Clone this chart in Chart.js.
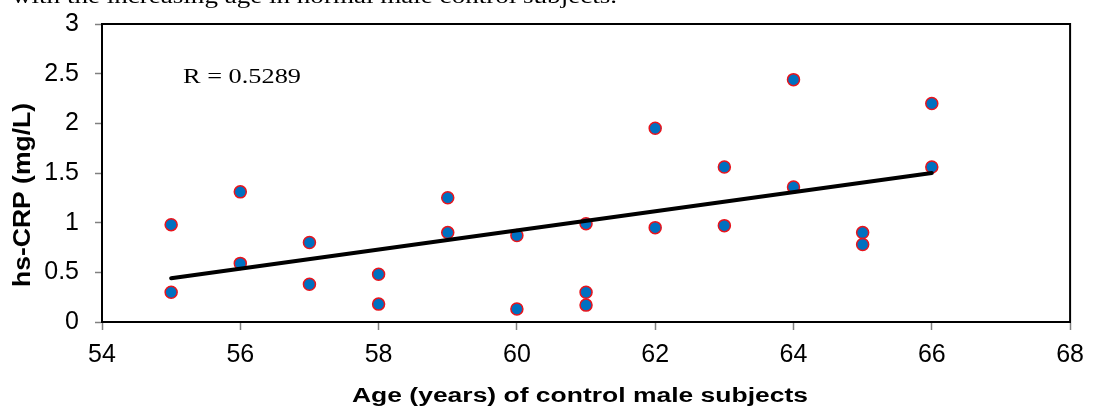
<!DOCTYPE html>
<html>
<head>
<meta charset="utf-8">
<script src="https://cdn.jsdelivr.net/npm/chart.js@4/dist/chart.umd.min.js"></script>
<style>
  html, body { margin: 0; padding: 0; background: #fff; }
  #wrap { width: 1094px; height: 411px; position: relative; }
</style>
</head>
<body>
<div id="wrap"><canvas id="crpChart" width="1094" height="411"></canvas></div>
<script>
// Data
const ages = [55, 55, 56, 56, 57, 57, 58, 58, 59, 59, 60, 60, 61, 61, 61, 62, 62, 63, 63, 64, 64, 65, 65, 66, 66];
const crpValues = [0.98, 0.30, 1.31, 0.59, 0.80, 0.38, 0.48, 0.18, 1.25, 0.90, 0.87, 0.13, 0.99, 0.30, 0.17, 1.95, 0.95, 1.56, 0.97, 2.44, 1.36, 0.90, 0.78, 2.20, 1.56];
const trendAges = [55, 66];
const trendValues = [0.44, 1.50];
const xTicks = [54, 56, 58, 60, 62, 64, 66, 68];
const yTicks = [0, 0.5, 1, 1.5, 2, 2.5, 3];

const captionText = 'with the increasing age in normal male control subjects.';
const rText = 'R = 0.5289';
const xTitle = 'Age (years) of control male subjects';
const yTitle = 'hs-CRP (mg/L)';

const SANS = '"Liberation Sans", Arial, sans-serif';
const SERIF = '"Liberation Serif", "Times New Roman", serif';

// target plot box (pixels)
const AREA = { left: 102, top: 24, right: 1075, bottom: 322 };

// draw text squeezed/stretched to a given width (the source figure is stretched sideways)
function drawFit(ctx, text, font, x, y, width, align, vertical) {
    ctx.save();
    ctx.font = font;
    ctx.fillStyle = '#000';
    ctx.textAlign = align;
    ctx.textBaseline = 'alphabetic';
    const w = ctx.measureText(text).width;
    ctx.translate(x, y);
    if (vertical) ctx.rotate(-Math.PI / 2);
    ctx.scale(width / w, 1);
    ctx.fillText(text, 0, 0);
    ctx.restore();
}

const annotations = {
    id: 'annotations',
    afterDatasetsDraw(chart) {
        const { ctx, chartArea: a } = chart;
        // plot frame
        ctx.save();
        ctx.strokeStyle = '#000';
        ctx.lineWidth = 2;
        ctx.strokeRect(a.left, a.top, a.right - a.left, a.bottom - a.top);
        ctx.restore();

        drawFit(ctx, captionText, '21px ' + SERIF, 12, 3, 605, 'left', false);
        drawFit(ctx, rText, '21px ' + SERIF, 183, 83, 118, 'left', false);
        drawFit(ctx, xTitle, 'bold 20px ' + SANS, 580, 402, 456, 'center', false);
        drawFit(ctx, yTitle, 'bold 23px ' + SANS, 30, 195, 184, 'center', true);
    }
};

const ctx = document.getElementById('crpChart').getContext('2d');
const crpChart = new Chart(ctx, {
    type: 'scatter',
    data: {
        datasets: [
            {
                label: 'Trend',
                type: 'line',
                data: trendAges.map((a, i) => ({ x: a, y: trendValues[i] })),
                borderColor: '#000',
                borderWidth: 4,
                borderCapStyle: 'round',
                pointRadius: 0,
                fill: false,
                order: 0
            },
            {
                label: 'hs-CRP',
                data: ages.map((a, i) => ({ x: a, y: crpValues[i] })),
                backgroundColor: '#0070C0',
                borderColor: '#E8141C',
                borderWidth: 1.5,
                pointRadius: 6,
                pointHoverRadius: 6,
                order: 1
            }
        ]
    },
    options: {
        responsive: false,
        animation: false,
        devicePixelRatio: 1,
        layout: { padding: { top: AREA.top, right: 1094 - AREA.right, left: 0, bottom: 0 } },
        plugins: {
            legend: { display: false },
            tooltip: { enabled: false }
        },
        scales: {
            x: {
                type: 'linear',
                min: 54,
                max: 68,
                afterBuildTicks: (s) => { s.ticks = xTicks.map(v => ({ value: v })); },
                afterFit: (s) => { s.height = 411 - AREA.bottom; },
                grid: { drawOnChartArea: false, drawTicks: true, tickLength: 8, color: '#808080', tickWidth: 1.5 },
                border: { display: true, color: '#000', width: 2 },
                ticks: { color: '#000', padding: 10, font: { family: SANS, size: 25 }, maxRotation: 0,
                         callback: (v) => String(v) }
            },
            y: {
                type: 'linear',
                min: 0,
                max: 3,
                afterBuildTicks: (s) => { s.ticks = yTicks.map(v => ({ value: v })); },
                afterFit: (s) => {
                    s.width = AREA.left;
                    // label padding would otherwise push the plot top down
                    s.paddingTop = 0;
                    s.paddingBottom = 0;
                },
                grid: { drawOnChartArea: false, drawTicks: true, tickLength: 7, color: '#808080', tickWidth: 1.5 },
                border: { display: true, color: '#000', width: 2 },
                ticks: { color: '#000', padding: 16, font: { family: SANS, size: 25 },
                         callback: (v) => String(v) }
            }
        }
    },
    plugins: [annotations]
});
</script>
</body>
</html>
